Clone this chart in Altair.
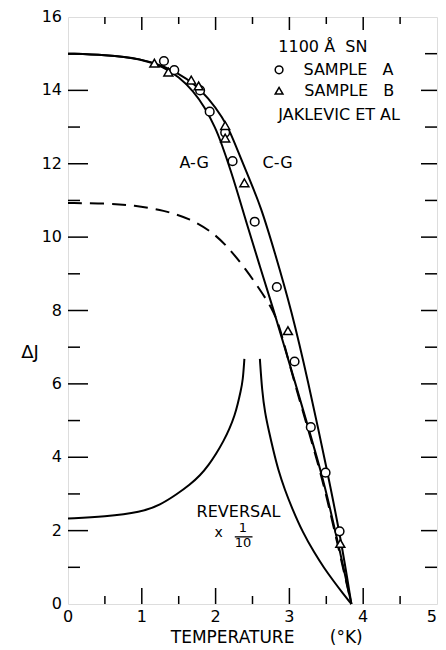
import altair as alt
import pandas as pd

# ---------------- data ----------------
ag_x = [0.0, 0.5, 1.0, 1.3, 1.5, 1.7, 1.85, 2.0, 2.08, 2.2, 2.3, 2.41, 2.6, 2.79, 2.93, 3.07, 3.25, 3.43, 3.55, 3.7, 3.84]
ag_y = [15.0, 14.97, 14.86, 14.63, 14.37, 13.98, 13.55, 12.97, 12.55, 11.85, 11.2, 10.45, 9.2, 7.99, 7.03, 6.09, 4.85, 3.6, 2.62, 1.3, 0.0]

cg_x = [0.0, 0.5, 1.0, 1.3, 1.5, 1.7, 1.9, 2.1, 2.2, 2.3, 2.45, 2.61, 2.8, 3.03, 3.25, 3.5, 3.7, 3.84]
cg_y = [15.0, 14.97, 14.86, 14.66, 14.45, 14.2, 13.8, 13.25, 12.85, 12.36, 11.62, 10.85, 9.6, 7.99, 6.1, 3.75, 1.75, 0.0]

dash_x = [0.0, 0.5, 0.9, 1.3, 1.66, 1.97, 2.19, 2.41, 2.59, 2.76, 2.86, 2.94, 3.06, 3.24, 3.42, 3.54, 3.69, 3.84]
dash_y = [10.93, 10.92, 10.87, 10.73, 10.5, 10.12, 9.68, 9.12, 8.6, 8.08, 7.6, 7.0, 6.1, 4.85, 3.6, 2.62, 1.3, 0.0]

revl_x = [0.0, 0.5, 0.99, 1.25, 1.48, 1.65, 1.79, 1.91, 2.01, 2.11, 2.19, 2.26, 2.30, 2.34, 2.37, 2.39]
revl_y = [2.33, 2.38, 2.5, 2.7, 3.0, 3.25, 3.5, 3.8, 4.1, 4.45, 4.78, 5.15, 5.45, 5.8, 6.1, 6.68]

revr_x = [2.60, 2.63, 2.67, 2.72, 2.78, 2.85, 2.94, 3.03, 3.18, 3.34, 3.47, 3.6, 3.72, 3.84]
revr_y = [6.68, 5.8, 5.2, 4.73, 4.2, 3.64, 3.1, 2.64, 1.95, 1.39, 0.98, 0.62, 0.3, 0.0]

sample_a_x = [1.30, 1.44, 1.79, 1.92, 2.13, 2.23, 2.53, 2.83, 3.07, 3.29, 3.49, 3.68]
sample_a_y = [14.8, 14.55, 14.0, 13.42, 12.85, 12.07, 10.42, 8.64, 6.61, 4.82, 3.58, 1.98]

sample_b_x = [1.17, 1.36, 1.67, 1.77, 2.13, 2.13, 2.39, 2.98, 3.69]
sample_b_y = [14.74, 14.5, 14.28, 14.12, 13.04, 12.7, 11.48, 7.45, 1.65]

x_labels = [0, 1, 2, 3, 4]
x_label_last = 5
y_labels = [0, 2, 4, 6, 8, 10, 12, 14, 16]
x_ticks_major = [1, 2, 3, 4]
x_ticks_minor = [0.5, 1.5, 2.5, 3.5, 4.5]
y_ticks_major = [2, 4, 6, 8, 10, 12, 14]
y_ticks_minor = [1, 3, 5, 7, 9, 11, 13, 15]

# ---------------- layout ----------------
W, H = 369, 587
FONT = "DejaVu Sans"
xs = alt.Scale(domain=[0, 5], nice=False, zero=False)
ys = alt.Scale(domain=[0, 16], nice=False, zero=False)


def X(field="x"):
    return alt.X(f"{field}:Q", scale=xs, axis=None)


def Y(field="y"):
    return alt.Y(f"{field}:Q", scale=ys, axis=None)


def curve(xv, yv, dash=None):
    df = pd.DataFrame({"x": xv, "y": yv, "i": list(range(len(xv)))})
    kw = dict(color="black", strokeWidth=2, interpolate="basis")
    if dash:
        kw["strokeDash"] = dash
    return alt.Chart(df).mark_line(**kw).encode(x=X(), y=Y(), order=alt.Order("i:Q"))


def points(xv, yv, shape, size):
    df = pd.DataFrame({"x": xv, "y": yv})
    return alt.Chart(df).mark_point(shape=shape, size=size, filled=True, fill="white",
                                    stroke="black", strokeWidth=1.5, opacity=1).encode(x=X(), y=Y())


def ticks_x(vals, y0, y1):
    df = pd.DataFrame({"v": vals})
    return alt.Chart(df).mark_rule(color="black", strokeWidth=1.5).encode(
        x=X("v"), y=alt.value(y0), y2=alt.value(y1))


def ticks_y(vals, x0, x1):
    df = pd.DataFrame({"v": vals})
    return alt.Chart(df).mark_rule(color="black", strokeWidth=1.5).encode(
        y=Y("v"), x=alt.value(x0), x2=alt.value(x1))


def labels_x(vals, align="center"):
    df = pd.DataFrame({"v": vals, "t": [str(v) for v in vals]})
    return alt.Chart(df).mark_text(font=FONT, fontSize=16, color="black", align=align,
                                   baseline="middle").encode(x=X("v"), y=alt.value(H + 13), text="t:N")


def labels_y(vals):
    df = pd.DataFrame({"v": vals, "t": [str(v) for v in vals]})
    return alt.Chart(df).mark_text(font=FONT, fontSize=16, color="black", align="right",
                                   baseline="middle").encode(y=Y("v"), x=alt.value(-6), text="t:N")


base = alt.Chart(pd.DataFrame({"a": [0]}))


def text(s, x=None, y=None, xp=None, yp=None, size=16, align="left"):
    enc = {}
    enc["x"] = alt.X(datum=x, type="quantitative", scale=xs, axis=None) if x is not None else alt.value(xp)
    enc["y"] = alt.Y(datum=y, type="quantitative", scale=ys, axis=None) if y is not None else alt.value(yp)
    return base.mark_text(text=s, font=FONT, fontSize=size, color="black", align=align,
                          baseline="middle").encode(**enc)


def symbol(shape, x, y, size):
    return base.mark_point(shape=shape, size=size, filled=False, stroke="black", strokeWidth=1.5,
                           opacity=1).encode(
        x=alt.X(datum=x, type="quantitative", scale=xs, axis=None),
        y=alt.Y(datum=y, type="quantitative", scale=ys, axis=None))


NB = "\u00a0"
layers = [
    curve(ag_x, ag_y),
    curve(cg_x, cg_y),
    curve(dash_x, dash_y, dash=[14, 8]),
    curve(revl_x, revl_y),
    curve(revr_x, revr_y),
    points(sample_a_x, sample_a_y, "circle", 75),
    points(sample_b_x, sample_b_y, "triangle-up", 80),
    # inward ticks
    ticks_x(x_ticks_major, H, H - 16),
    ticks_x(x_ticks_minor, H, H - 8),
    ticks_x(x_ticks_major, 0, 13),
    ticks_x(x_ticks_minor, 0, 7),
    ticks_y(y_ticks_major, 0, 20),
    ticks_y(y_ticks_minor, 0, 12),
    ticks_y(y_ticks_major, W - 16, W),
    ticks_y(y_ticks_minor, W - 12, W),
    labels_x(x_labels),
    labels_x([x_label_last], align="right"),
    labels_y(y_labels),
    # annotations
    text(f"1100 Å{NB}{NB}SN", x=2.85, y=15.19, size=16),
    symbol("circle", 2.86, 14.56, 60),
    text(f"SAMPLE{NB}{NB}{NB}A", x=3.19, y=14.56, size=16),
    symbol("triangle-up", 2.86, 13.99, 60),
    text(f"SAMPLE{NB}{NB}{NB}B", x=3.20, y=13.99, size=16),
    text("JAKLEVIC ET AL", x=2.85, y=13.33, size=16),
    text("A-G", x=1.71, y=12.01, size=16, align="center"),
    text("C-G", x=2.84, y=12.01, size=16, align="center"),
    text("REVERSAL", x=2.31, y=2.5, size=16, align="center"),
    text("x", x=2.04, y=1.93, size=14, align="center"),
    text("1", x=2.37, y=2.07, size=13, align="center"),
    text("10", x=2.37, y=1.66, size=13, align="center"),
    base.mark_rule(color="black", strokeWidth=1.3).encode(
        x=alt.X(datum=2.26, type="quantitative", scale=xs, axis=None),
        x2=alt.X2(datum=2.50),
        y=alt.Y(datum=1.83, type="quantitative", scale=ys, axis=None)),
    text("ΔJ", xp=-38, y=6.85, size=18, align="center"),
    text("TEMPERATURE", x=2.23, yp=H + 34, size=17, align="center"),
    text("(°K)", x=3.77, yp=H + 34, size=17, align="center"),
]

chart = alt.layer(*layers).properties(
    width=W, height=H,
    autosize=alt.AutoSizeParams(type="none"),
    padding={"left": 60, "top": 9, "right": 1, "bottom": 44},
).configure_view(stroke="black", strokeWidth=2).configure(background="white")

chart.save("out.html", embed_options={"renderer": "svg", "actions": False})
